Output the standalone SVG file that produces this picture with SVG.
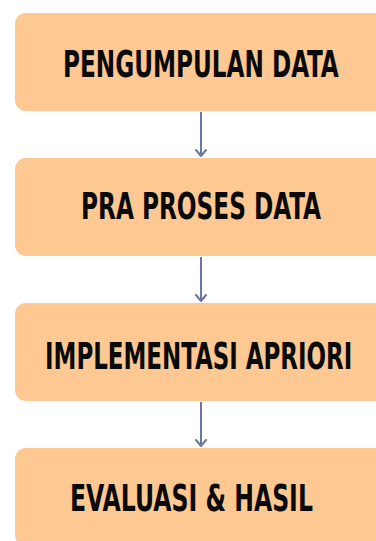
<svg xmlns="http://www.w3.org/2000/svg" width="376" height="541" viewBox="0 0 376 541">
<style>
.box{fill:#FEC892;}
.lbl{font-family:"DejaVu Sans Condensed","DejaVu Sans",sans-serif;font-weight:bold;font-size:37px;fill:#0a0a0a;}
.conn{stroke:#6878A0;stroke-width:2;fill:none;}
</style>
<defs>
<marker id="ah" viewBox="0 0 8 12" refX="7" refY="6" markerWidth="8" markerHeight="12" markerUnits="userSpaceOnUse" orient="auto">
<polyline points="1,1 7,6 1,11" fill="none" stroke="#6878A0" stroke-width="2" stroke-linecap="round" stroke-linejoin="round"/>
</marker>
</defs>
<rect width="376" height="541" fill="#ffffff"/>
<g id="connectors">
<line class="conn" x1="201" y1="112" x2="201" y2="156" marker-end="url(#ah)"/>
<line class="conn" x1="201" y1="257" x2="201" y2="301" marker-end="url(#ah)"/>
<line class="conn" x1="201" y1="402" x2="201" y2="446" marker-end="url(#ah)"/>
</g>
<g id="node1">
<rect class="box" x="15" y="13" width="380" height="98" rx="11"/>
<text class="lbl" transform="translate(63,77) scale(0.7,1)" x="0" y="0" textLength="394" lengthAdjust="spacingAndGlyphs">PENGUMPULAN DATA</text>
</g>
<g id="node2">
<rect class="box" x="15" y="158" width="380" height="98" rx="11"/>
<text class="lbl" transform="translate(81,219) scale(0.7,1)" x="0" y="0" textLength="343" lengthAdjust="spacingAndGlyphs">PRA PROSES DATA</text>
</g>
<g id="node3">
<rect class="box" x="15" y="303" width="380" height="98" rx="11"/>
<text class="lbl" transform="translate(45,369) scale(0.7,1)" x="0" y="0" textLength="439" lengthAdjust="spacingAndGlyphs">IMPLEMENTASI APRIORI</text>
</g>
<g id="node4">
<rect class="box" x="15" y="448" width="380" height="98" rx="11"/>
<text class="lbl" transform="translate(70,511) scale(0.7,1)" x="0" y="0" textLength="347" lengthAdjust="spacingAndGlyphs">EVALUASI &amp; HASIL</text>
</g>
</svg>
